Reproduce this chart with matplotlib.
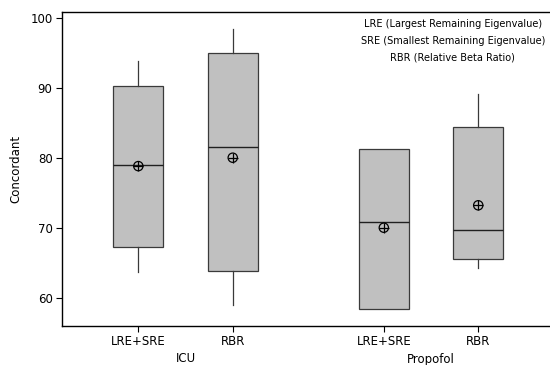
import numpy as np
import matplotlib
matplotlib.use('Agg')
import matplotlib.pyplot as plt

# values
groups = ['ICU', 'Propofol']
methods = ['LRE+SRE', 'RBR', 'LRE+SRE', 'RBR']
positions = [1.0, 2.0, 3.6, 4.6]
whisker_low = [63.6, 58.9, 58.4, 64.3]
q1 = [67.2, 63.8, 58.4, 65.5]
median = [79.0, 81.5, 70.8, 69.7]
q3 = [90.3, 95.0, 81.3, 84.4]
whisker_high = [93.8, 98.4, 81.3, 89.1]
mean = [78.8, 80.0, 70.0, 73.2]
yticks = [60, 70, 80, 90, 100]
note_lines = ['LRE (Largest Remaining Eigenvalue)',
              'SRE (Smallest Remaining Eigenvalue)',
              'RBR (Relative Beta Ratio)']

plt.rcParams['font.family'] = ['DejaVu Sans']

fig = plt.figure(figsize=(5.5, 3.65), dpi=100)
ax = fig.add_axes([0.1133, 0.1077, 0.8867, 0.8581])

stats = []
for i in range(len(methods)):
    stats.append({'whislo': whisker_low[i], 'q1': q1[i], 'med': median[i],
                  'q3': q3[i], 'whishi': whisker_high[i], 'fliers': []})

edge = '#3a3a3a'
ax.bxp(stats, positions=positions, widths=0.53, patch_artist=True,
       showcaps=False, showfliers=False,
       boxprops=dict(facecolor='#c0c0c0', edgecolor=edge, linewidth=0.9),
       medianprops=dict(color='#202020', linewidth=1.0),
       whiskerprops=dict(color=edge, linewidth=0.9))

ax.scatter(positions, mean, s=45, facecolors='none', edgecolors='black',
           linewidths=0.9, zorder=5)
ax.scatter(positions, mean, s=45, marker='+', color='black',
           linewidths=0.9, zorder=5)

ax.set_xlim(0.195, 5.36)
ax.set_ylim(56, 100.75)
ax.set_yticks(yticks)
ax.set_xticks(positions)
ax.set_xticklabels(methods)
ax.tick_params(axis='both', direction='out', length=4, width=0.8,
               labelsize=8.5, colors='black', pad=3)
ax.set_ylabel('Concordant', fontsize=8.5, labelpad=6)

for side in ['top', 'left', 'bottom']:
    ax.spines[side].set_linewidth(1.0)
ax.spines['right'].set_visible(False)

# group labels below the method labels
fig.text(185.5 / 550, 1 - 359 / 365, groups[0], ha='center', va='center', fontsize=8.5)
fig.text(431 / 550, 1 - 359 / 365, groups[1], ha='center', va='center', fontsize=8.5)

note_y = [24, 41, 57]
for line, y in zip(note_lines, note_y):
    fig.text(452.7 / 550, 1 - y / 365, line, ha='center', va='center', fontsize=7)

fig.savefig('out.png', dpi=100)
